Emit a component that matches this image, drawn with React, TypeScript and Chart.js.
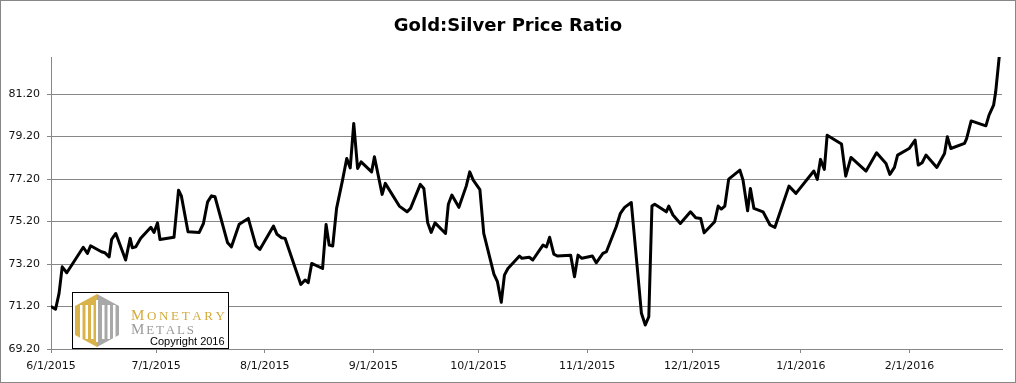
import React, { useEffect, useRef } from "react";
import { Chart, registerables } from "chart.js";

Chart.register(...registerables);

const chartTitle = "Gold:Silver Price Ratio";
const startDate = "2015-06-01";
const tickDates = [
  "2015-06-01", "2015-07-01", "2015-08-01", "2015-09-01", "2015-10-01",
  "2015-11-01", "2015-12-01", "2016-01-01", "2016-02-01",
];
const tickLabels = [
  "6/1/2015", "7/1/2015", "8/1/2015", "9/1/2015", "10/1/2015",
  "11/1/2015", "12/1/2015", "1/1/2016", "2/1/2016",
];
const yTicks = [69.2, 71.2, 73.2, 75.2, 77.2, 79.2, 81.2];
const yMin = 69.2;
const yMax = 82.95;
const xMax = 271.4;

// days since 6/1/2015
const dayOffsets = [
  0.1, 1.3, 2.3, 3.2, 4.5, 9.2, 10.4, 11.3, 14.4, 15.4, 16.6, 17.3, 18.5, 21.3, 22.6, 23.2, 24.2, 25.6,
  28.5, 29.4, 30.4, 31.1, 35.1, 36.4, 37.2, 39.1, 42.3, 43.5, 44.7, 45.8, 46.8, 50.4, 51.5, 53.7, 56.3,
  58.5, 59.6, 63.5, 64.5, 65.8, 66.8, 71.3, 72.5, 73.4, 74.4, 77.5, 78.5, 79.4, 80.4, 81.5, 83.2, 84.4,
  85.4, 86.4, 87.5, 88.5, 91.5, 92.3, 94.5, 95.4, 99.4, 101.6, 102.6, 105.4, 106.4, 107.5, 108.5, 109.6,
  112.6, 113.4, 114.4, 116.4, 118.5, 119.5, 120.5, 122.4, 123.5, 126.4, 127.4, 128.5, 129.4, 130.4,
  133.7, 134.4, 136.5, 137.5, 140.4, 141.4, 142.3, 143.5, 144.5, 148.3, 149.4, 150.4, 151.5, 154.5,
  155.6, 157.5, 158.5, 161.3, 162.5, 163.7, 165.6, 168.5, 169.6, 170.6, 171.5, 172.3, 175.6, 176.3,
  177.5, 179.6, 182.5, 184.0, 185.4, 186.4, 189.4, 190.4, 191.3, 192.3, 193.4, 196.6, 197.5, 198.8,
  199.6, 200.6, 203.2, 205.2, 206.6, 210.6, 212.6, 217.7, 218.7, 219.6, 220.7, 221.5, 225.6, 226.8,
  228.3, 232.6, 235.6, 238.3, 239.4, 240.7, 241.6, 244.9, 246.6, 247.5, 248.6, 249.7, 252.8, 255.0,
  255.8, 256.8, 260.7, 261.3, 262.6, 266.8, 267.7, 269.0, 269.6, 270.6,
];

const ratios = [
  71.19, 71.07, 71.82, 73.07, 72.79, 73.99, 73.70, 74.06, 73.78, 73.73, 73.54, 74.36, 74.64, 73.39, 74.41, 73.97, 74.01, 74.41,
  74.93, 74.69, 75.14, 74.36, 74.46, 76.68, 76.41, 74.72, 74.69, 75.11, 76.13, 76.41, 76.37, 74.20, 74.01, 75.07, 75.35,
  74.06, 73.89, 74.99, 74.60, 74.44, 74.41, 72.24, 72.45, 72.32, 73.23, 72.99, 75.06, 74.09, 74.05, 75.82, 77.15, 78.17,
  77.73, 79.82, 77.70, 78.01, 77.54, 78.25, 76.48, 77.00, 75.93, 75.66, 75.82, 76.95, 76.76, 75.14, 74.69, 75.14,
  74.64, 76.02, 76.45, 75.87, 76.87, 77.54, 77.15, 76.71, 74.64, 72.73, 72.37, 71.40, 72.68, 72.99,
  73.58, 73.47, 73.52, 73.39, 74.09, 74.01, 74.46, 73.67, 73.58, 73.62, 72.60, 73.62, 73.47, 73.58,
  73.26, 73.70, 73.78, 74.96, 75.59, 75.87, 76.10, 70.88, 70.33, 70.72, 75.93, 76.02, 75.66, 75.93,
  75.51, 75.11, 75.66, 75.38, 75.35, 74.67, 75.19, 75.93, 75.79, 75.93, 77.20, 77.62, 77.15, 75.71,
  76.76, 75.82, 75.66, 75.04, 74.93, 76.87, 76.53, 77.58, 77.19, 78.13, 77.66, 79.27, 78.85, 77.34,
  78.22, 77.58, 78.44, 77.94, 77.42, 77.75, 78.33, 78.64, 79.04, 77.86, 77.97, 78.33, 77.75, 78.41,
  79.19, 78.64, 78.88, 79.11, 79.94, 79.71, 80.21, 80.68, 81.31, 82.95,
];

const dayMs = 86400000;
const toUtc = (s: string) => {
  const [y, m, d] = s.split("-").map(Number);
  return Date.UTC(y, m - 1, d);
};
const tickOffsets = tickDates.map((d) => Math.round((toUtc(d) - toUtc(startDate)) / dayMs));

const W = 1016;
const H = 383;
const GRID = "#878787";

function drawSpaced(ctx: CanvasRenderingContext2D, parts: { ch: string; font: string }[], x: number, y: number, width: number) {
  let total = 0;
  const ws = parts.map((p) => {
    ctx.font = p.font;
    const w = ctx.measureText(p.ch).width;
    total += w;
    return w;
  });
  const gap = parts.length > 1 ? (width - total) / (parts.length - 1) : 0;
  let cx = x;
  parts.forEach((p, i) => {
    ctx.font = p.font;
    ctx.fillText(p.ch, cx, y);
    cx += ws[i] + gap;
  });
}

const decorPlugin = {
  id: "decor",
  beforeDraw(chart: any) {
    const ctx = chart.ctx as CanvasRenderingContext2D;
    ctx.save();
    ctx.fillStyle = "#fff";
    ctx.fillRect(0, 0, W, H);
    ctx.restore();
  },
  afterDraw(chart: any) {
    const ctx = chart.ctx as CanvasRenderingContext2D;
    ctx.save();
    // outer border
    ctx.strokeStyle = GRID;
    ctx.lineWidth = 1;
    ctx.strokeRect(0.5, 0.5, W - 1, H - 1);
    // title
    ctx.fillStyle = "#000";
    ctx.font = "bold 18px 'DejaVu Sans'";
    ctx.textAlign = "center";
    ctx.textBaseline = "middle";
    ctx.fillText(chartTitle, 508, 26);

    // logo box
    const bx = 72, by = 292, bw = 156, bh = 56;
    ctx.fillStyle = "#fff";
    ctx.fillRect(bx, by, bw, bh);
    ctx.strokeStyle = "#000";
    ctx.strokeRect(bx + 0.5, by + 0.5, bw, bh);
    const gold = "#D9B24A";
    const gray = "#A8A8A8";
    const cx = 97, top = 294, bot = 347, lx = 75, rx = 119, ty = 306, byy = 335;
    ctx.fillStyle = gold;
    ctx.beginPath();
    ctx.moveTo(cx, top); ctx.lineTo(lx, ty); ctx.lineTo(lx, byy); ctx.lineTo(cx, bot); ctx.closePath();
    ctx.fill();
    ctx.fillStyle = gray;
    ctx.beginPath();
    ctx.moveTo(cx, top); ctx.lineTo(rx, ty); ctx.lineTo(rx, byy); ctx.lineTo(cx, bot); ctx.closePath();
    ctx.fill();
    ctx.fillStyle = "#fff";
    [80, 85.5, 91, 102, 107.5, 113].forEach((x) => ctx.fillRect(x, 305, 2.5, 34));
    ctx.fillRect(96, 300, 2, 42);

    ctx.textAlign = "left";
    ctx.textBaseline = "alphabetic";
    ctx.fillStyle = "#D4AA3C";
    const big = "15px 'Liberation Serif'";
    const small = "13px 'Liberation Serif'";
    drawSpaced(ctx, "MONETARY".split("").map((ch, i) => ({ ch, font: i === 0 ? big : small })), 131, 319.5, 94);
    ctx.fillStyle = "#9A9A9A";
    drawSpaced(ctx, "METALS".split("").map((ch, i) => ({ ch, font: i === 0 ? big : small })), 131, 333.5, 63);
    ctx.fillStyle = "#000";
    ctx.font = "11px 'Liberation Sans'";
    ctx.fillText("Copyright 2016", 150, 344.5);
    ctx.restore();
  },
};

export default function App() {
  const ref = useRef<HTMLCanvasElement | null>(null);
  useEffect(() => {
    document.body.style.margin = "0";
    if (!ref.current) return;
    const chart = new Chart(ref.current, {
      type: "line",
      data: {
        datasets: [
          {
            data: dayOffsets.map((d, i) => ({ x: d, y: ratios[i] })),
            borderColor: "#000",
            borderWidth: 3,
            pointRadius: 0,
            tension: 0,
            borderJoinStyle: "round",
            borderCapStyle: "round",
            fill: false,
          },
        ],
      },
      options: {
        responsive: false,
        animation: false,
        devicePixelRatio: 1,
        layout: { padding: { left: 0, right: 14, top: 57, bottom: 0 } },
        plugins: { legend: { display: false }, tooltip: { enabled: false }, title: { display: false } },
        scales: {
          x: {
            type: "linear",
            min: 0,
            max: xMax,
            afterBuildTicks: (s: any) => {
              s.ticks = tickOffsets.map((v) => ({ value: v }));
            },
            afterFit: (s: any) => {
              s.height = H - 349;
            },
            ticks: {
              autoSkip: false,
              maxRotation: 0,
              padding: 7,
              color: "#111",
              font: { family: "'DejaVu Sans'", size: 11 },
              callback: (_v: any, i: number) => tickLabels[i],
            },
            grid: { drawOnChartArea: false, drawTicks: true, tickLength: 4, color: GRID },
            border: { display: true, color: GRID },
          },
          y: {
            min: yMin,
            max: yMax,
            afterBuildTicks: (s: any) => {
              s.ticks = yTicks.map((v) => ({ value: v }));
            },
            afterFit: (s: any) => {
              s.width = 51;
            },
            ticks: {
              padding: 7,
              color: "#111",
              font: { family: "'DejaVu Sans'", size: 11 },
              callback: (v: any) => Number(v).toFixed(2),
            },
            grid: { color: GRID, tickLength: 4, drawTicks: true },
            border: { display: true, color: GRID },
          },
        },
      } as any,
      plugins: [decorPlugin],
    });
    return () => chart.destroy();
  }, []);
  return (
    <div style={{ width: W, height: H }}>
      <canvas ref={ref} width={W} height={H} style={{ display: "block" }} />
    </div>
  );
}
